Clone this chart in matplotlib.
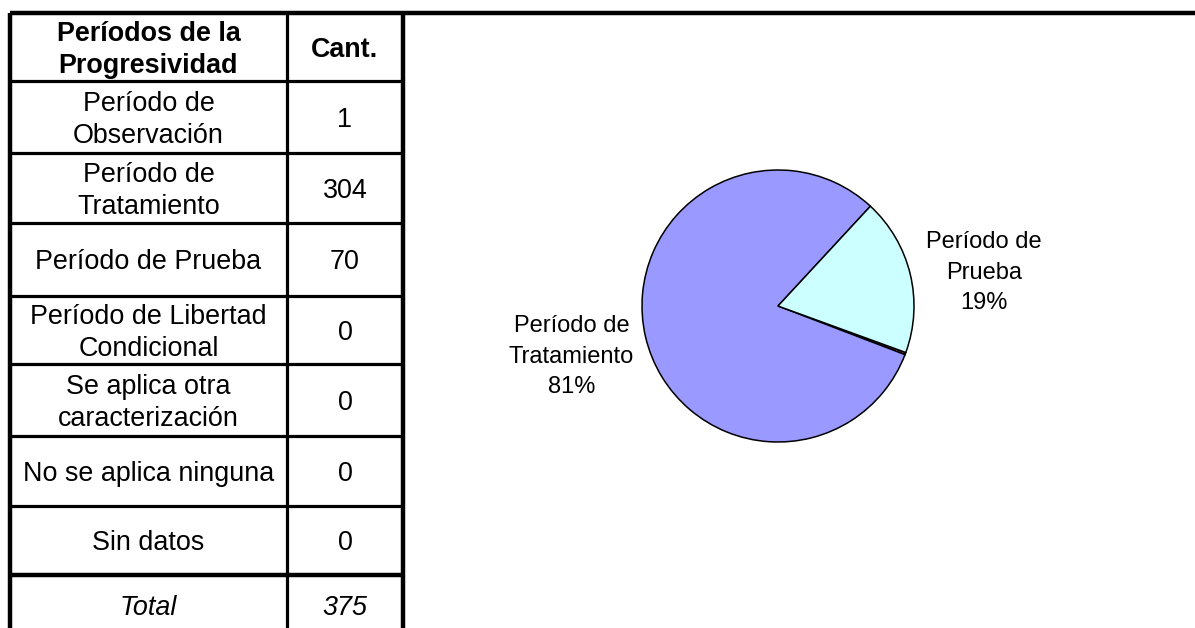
import textwrap
import numpy as np
import matplotlib
matplotlib.use("Agg")
import matplotlib.pyplot as plt

# ---------------- data ----------------
header = ["Períodos de la\nProgresividad", "Cant."]
categories = ["Período de\nObservación", "Período de\nTratamiento", "Período de Prueba",
              "Período de Libertad\nCondicional", "Se aplica otra\ncaracterización",
              "No se aplica ninguna", "Sin datos"]
counts = [1, 304, 70, 0, 0, 0, 0]
total_label = "Total"
slice_colors = ["#993366", "#9999FF", "#CCFFFF", "#FFFFCC", "#660066", "#FF8080", "#0066CC"]
pie_label_shown = [False, True, True, True, True, True, True]

FONT = "Liberation Sans"
W, H = 1195, 628
fig = plt.figure(figsize=(W / 100, H / 100), dpi=100)
bg = fig.add_axes([0, 0, 1, 1])
bg.set_xlim(0, W)
bg.set_ylim(H, 0)
bg.axis("off")

# ---------------- table layout (pixels) ----------------
x_left, x_mid, x_right = 10, 287, 403
row_edges = [13, 81, 153, 223, 296, 364, 436, 506, 575, 640]
TS = 19.4
em = TS * 100 / 72
GAP = 32


def cell_text(cx, cy, text, size=TS, weight="normal", style="normal", gap=GAP, off=0.37):
    e = size * 100 / 72
    lines = text.split("\n")
    n = len(lines)
    base = cy + off * e
    for i, ln in enumerate(lines):
        y = base + (i - (n - 1) / 2) * gap
        bg.text(cx, y, ln, ha="center", va="baseline", fontsize=size,
                family=FONT, weight=weight, style=style, color="black")


# lines
thick = 3.2
thin = 2.3
bg.plot([x_left, W], [row_edges[0]] * 2, color="black", lw=thick, solid_capstyle="butt")
for xv in (x_left, x_right):
    bg.plot([xv, xv], [row_edges[0], H], color="black", lw=thick, solid_capstyle="butt")
bg.plot([x_mid, x_mid], [row_edges[0], H], color="black", lw=thin, solid_capstyle="butt")
for k, yv in enumerate(row_edges[1:-1]):
    lw = thick if k == len(row_edges) - 3 else thin
    bg.plot([x_left, x_right], [yv, yv], color="black", lw=lw, solid_capstyle="butt")

cx1 = (x_left + x_mid) / 2
cx2 = (x_mid + x_right) / 2
cy = (row_edges[0] + row_edges[1]) / 2
cell_text(cx1, cy, header[0], weight="bold")
cell_text(cx2, cy, header[1], weight="bold")
for i, (cat, val) in enumerate(zip(categories, counts)):
    cy = (row_edges[i + 1] + row_edges[i + 2]) / 2
    cell_text(cx1, cy, cat)
    cell_text(cx2, cy, str(val))
cy = (row_edges[-2] + 635) / 2
cell_text(cx1, cy, total_label, style="italic")
cell_text(cx2, cy, str(sum(counts)), style="italic")

# ---------------- pie ----------------
pcx, pcy, R = 778, 306, 136
pax = fig.add_axes([(pcx - R) / W, (H - pcy - R) / H, 2 * R / W, 2 * R / H])
vals = [v for v in counts if v > 0]
cols = [c for v, c in zip(counts, slice_colors) if v > 0]
names = [n for v, n in zip(counts, categories) if v > 0]
shown = [s for v, s in zip(counts, pie_label_shown) if v > 0]
wedges, _ = pax.pie(vals, colors=cols, startangle=-20, counterclock=False, radius=1,
                    wedgeprops=dict(edgecolor="black", linewidth=1.1))
pax.set_xlim(-1, 1)
pax.set_ylim(-1, 1)
pax.set_aspect("equal")
pax.axis("off")

total = sum(counts)
PS = 17
pe = PS * 100 / 72
for w, v, n, s in zip(wedges, vals, names, shown):
    if not s:
        continue
    mid = np.deg2rad((w.theta1 + w.theta2) / 2)
    lx, ly = 1.56 * np.cos(mid), 1.56 * np.sin(mid)
    disp = pax.transData.transform((lx, ly))
    px_, py_ = bg.transData.inverted().transform(disp)
    if np.sin(mid) > 0:
        py_ += 14  # Excel keeps upper labels closer to the horizontal
    label = textwrap.fill(n.replace("\n", " "), 11) + f"\n{v / total * 100:.0f}%"
    lines = label.split("\n")
    for i, ln in enumerate(lines):
        y = py_ + 0.36 * pe + (i - (len(lines) - 1) / 2) * 30.5
        bg.text(px_, y, ln, ha="center", va="baseline", fontsize=PS, family=FONT, color="black")

fig.savefig("out.png", dpi=100)
